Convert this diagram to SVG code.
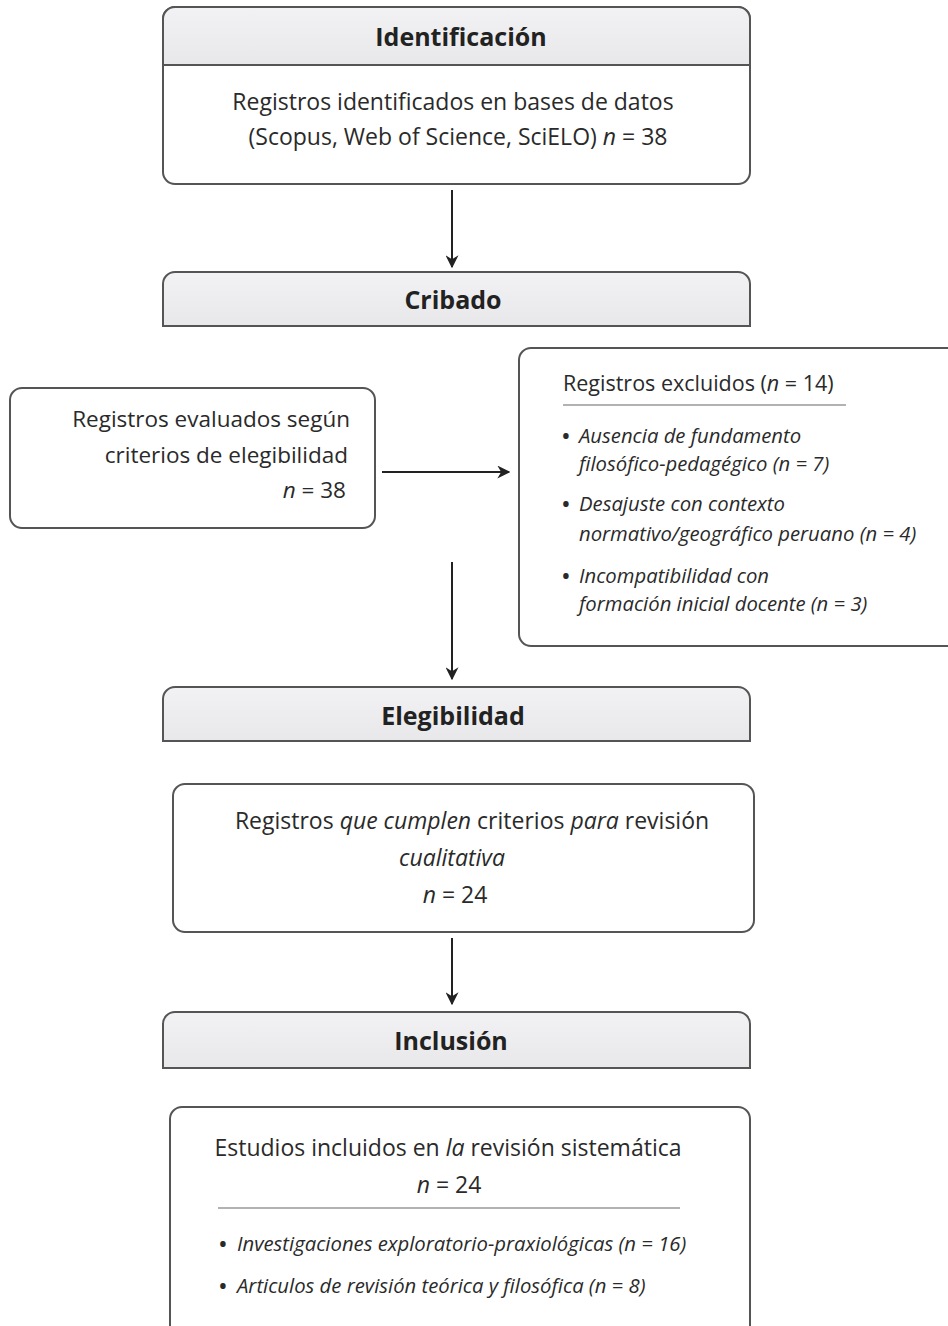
<svg xmlns="http://www.w3.org/2000/svg" width="948" height="1326" viewBox="0 0 948 1326">
<defs>
<marker id="ah" viewBox="0 0 10 10" refX="9" refY="5" markerWidth="13" markerHeight="13" markerUnits="userSpaceOnUse" orient="auto">
<path d="M0,0 L10,5 L0,10 L3,5 z" fill="#222"/>
</marker>
<linearGradient id="hg" x1="0" y1="0" x2="0" y2="1">
<stop offset="0" stop-color="#f2f2f4"/>
<stop offset="1" stop-color="#e8e8eb"/>
</linearGradient>
</defs>
<style>
text{font-family:"Open Sans","Noto Sans","Liberation Sans",sans-serif;fill:#2a2a2a;}
.t{font-size:25px;font-weight:bold;text-anchor:middle;fill:#222;}
.b{font-size:23px;}
.s{font-size:20.3px;font-style:italic;}
.i{font-style:italic;}
.d{font-size:26px;font-style:normal;}
.box{fill:#fff;stroke:#555;stroke-width:2;}
.hdr{fill:url(#hg);stroke:#555;stroke-width:2;}
.ln{stroke:#222;stroke-width:2;fill:none;}
.rule{stroke:#999;stroke-width:1.5;}
</style>
<rect width="948" height="1326" fill="#fff"/>

<g id="identificacion">
<rect class="box" x="163" y="7" width="587" height="177" rx="12"/>
<path class="hdr" d="M163,65 V19 A12,12 0 0 1 175,7 H738 A12,12 0 0 1 750,19 V65 Z"/>
<text class="t" x="461" y="46">Identificación</text>
<text class="b" x="453" y="110" text-anchor="middle">Registros identificados en bases de datos</text>
<text class="b" x="458" y="145" text-anchor="middle">(Scopus, Web of Science, SciELO) <tspan class="i">n</tspan> = 38</text>
</g>

<g id="cribado">
<path class="hdr" d="M163,326 V284 A12,12 0 0 1 175,272 H738 A12,12 0 0 1 750,284 V326 Z"/>
<text class="t" x="453" y="309">Cribado</text>
</g>

<g id="evaluados">
<rect class="box" x="10" y="388" width="365" height="140" rx="12"/>
<text class="b" x="350" y="427" text-anchor="end" style="font-size:22.5px">Registros evaluados según</text>
<text class="b" x="348" y="463" text-anchor="end" style="font-size:22.5px">criterios de elegibilidad</text>
<text class="b" x="346" y="498" text-anchor="end" style="font-size:22.5px"><tspan class="i">n</tspan> = 38</text>
</g>

<g id="excluidos">
<rect class="box" x="519" y="348" width="450" height="298" rx="12"/>
<text class="b" x="563" y="391" style="font-size:21.5px">Registros excluidos (<tspan class="i">n</tspan> = 14)</text>
<line class="rule" x1="563" y1="405" x2="846" y2="405"/>
<text class="d" x="561" y="445">•</text>
<text class="s" x="579" y="443">Ausencia de fundamento</text>
<text class="s" x="579" y="471">filosófico-pedagégico (n = 7)</text>
<text class="d" x="561" y="513">•</text>
<text class="s" x="579" y="511">Desajuste con contexto</text>
<text class="s" x="579" y="541">normativo/geográfico peruano (n = 4)</text>
<text class="d" x="561" y="585">•</text>
<text class="s" x="579" y="583">Incompatibilidad con</text>
<text class="s" x="579" y="611">formación inicial docente (n = 3)</text>
</g>

<g id="elegibilidad">
<path class="hdr" d="M163,741 V699 A12,12 0 0 1 175,687 H738 A12,12 0 0 1 750,699 V741 Z"/>
<text class="t" x="453" y="725">Elegibilidad</text>
</g>

<g id="cumplen">
<rect class="box" x="173" y="784" width="581" height="148" rx="12"/>
<text class="b" x="472" y="829" text-anchor="middle">Registros <tspan class="i">que cumplen</tspan> criterios <tspan class="i">para</tspan> revisión</text>
<text class="b i" x="452" y="866" text-anchor="middle">cualitativa</text>
<text class="b" x="455" y="903" text-anchor="middle"><tspan class="i">n</tspan> = 24</text>
</g>

<g id="inclusion">
<path class="hdr" d="M163,1068 V1024 A12,12 0 0 1 175,1012 H738 A12,12 0 0 1 750,1024 V1068 Z"/>
<text class="t" x="451" y="1050">Inclusión</text>
</g>

<g id="incluidos">
<rect class="box" x="170" y="1107" width="580" height="240" rx="12"/>
<text class="b" x="448" y="1156" text-anchor="middle">Estudios incluidos en <tspan class="i">la</tspan> revisión sistemática</text>
<text class="b" x="449" y="1193" text-anchor="middle"><tspan class="i">n</tspan> = 24</text>
<line class="rule" x1="218" y1="1208" x2="680" y2="1208"/>
<text class="d" x="218" y="1253">•</text>
<text class="s" x="237" y="1251">Investigaciones exploratorio-praxiológicas (n = 16)</text>
<text class="d" x="218" y="1295">•</text>
<text class="s" x="237" y="1293">Articulos de revisión teórica y filosófica (n = 8)</text>
</g>

<g id="connectors">
<line class="ln" x1="452" y1="190" x2="452" y2="267" marker-end="url(#ah)"/>
<line class="ln" x1="382" y1="472" x2="509" y2="472" marker-end="url(#ah)"/>
<line class="ln" x1="452" y1="562" x2="452" y2="679" marker-end="url(#ah)"/>
<line class="ln" x1="452" y1="938" x2="452" y2="1004" marker-end="url(#ah)"/>
</g>
</svg>
